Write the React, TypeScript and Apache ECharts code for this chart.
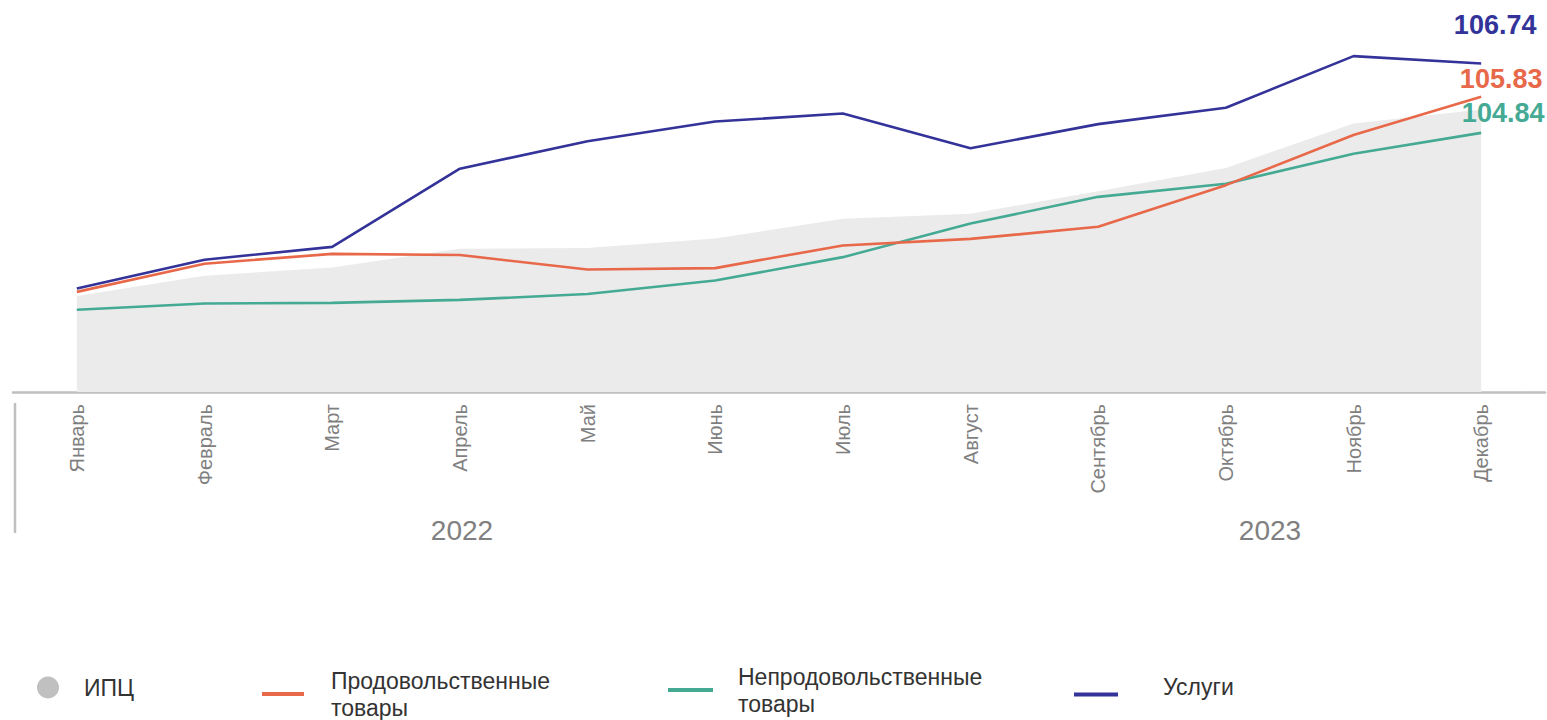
import React, { useEffect, useRef } from "react";
import * as echarts from "echarts";

const months = ["Январь", "Февраль", "Март", "Апрель", "Май", "Июнь", "Июль", "Август", "Сентябрь", "Октябрь", "Ноябрь", "Декабрь"];
const cpi = [100.38, 100.93, 101.16, 101.67, 101.69, 101.95, 102.49, 102.63, 103.24, 103.88, 105.10, 105.48];
const food = [100.49, 101.26, 101.53, 101.50, 101.10, 101.14, 101.76, 101.94, 102.27, 103.41, 104.78, 105.83];
const nonFood = [100.00, 100.17, 100.19, 100.27, 100.43, 100.80, 101.44, 102.36, 103.09, 103.45, 104.27, 104.84];
const services = [100.58, 101.37, 101.72, 103.86, 104.61, 105.15, 105.37, 104.42, 105.08, 105.53, 106.94, 106.74];
const years = ["2022", "2023"];

const NAMES = {
  cpi: "ИПЦ",
  food: "Продовольственные товары",
  nonFood: "Непродовольственные товары",
  services: "Услуги",
};

const COLORS = {
  cpiArea: "#ebebeb",
  cpiIcon: "#c0c0c0",
  food: "#e8684a",
  nonFood: "#45aa94",
  services: "#333399",
};

const FONT = "'Liberation Sans', Arial, sans-serif";

function lastLabel(values: number[], color: string, offset: number[]) {
  return values.map((v, i) =>
    i === values.length - 1
      ? {
          value: v,
          label: {
            show: true,
            position: "top",
            offset,
            formatter: (p: any) => Number(p.value).toFixed(2),
            color,
            fontSize: 27,
            fontWeight: "bold",
            fontFamily: FONT,
          },
        }
      : v
  );
}

export default function App() {
  const ref = useRef<HTMLDivElement>(null);
  useEffect(() => {
    if (!ref.current) return;
    const chart = echarts.init(ref.current, undefined, { renderer: "svg" });
    const lineSeries = (name: string, data: any[], color: string) => ({
      name,
      type: "line",
      data,
      symbol: "circle",
      symbolSize: 0,
      showSymbol: true,
      itemStyle: { color },
      lineStyle: { color, width: 2.6 },
      emphasis: { disabled: true },
    });
    const legendBase = {
      orient: "horizontal",
      padding: 0,
      itemHeight: 4,
      textStyle: { fontSize: 23, color: "#333", fontFamily: FONT, lineHeight: 27 },
      selectedMode: false,
    };
    chart.setOption({
      animation: false,
      grid: { left: 13, right: 2, top: 17.4, bottom: 328, containLabel: false },
      xAxis: {
        type: "category",
        data: months,
        boundaryGap: true,
        axisLine: { show: true, lineStyle: { color: "#bfbfbf", width: 2.5 } },
        axisTick: { show: false },
        axisLabel: {
          rotate: 90,
          margin: 12,
          color: "#7f7f7f",
          fontSize: 20,
          fontFamily: FONT,
          interval: 0,
        },
        splitLine: { show: false },
      },
      yAxis: {
        type: "value",
        min: 97.75,
        max: 108,
        show: false,
        splitLine: { show: false },
      },
      legend: [
        {
          ...legendBase,
          data: [{ name: NAMES.cpi, icon: "circle" }],
          left: 37,
          top: 674,
          itemWidth: 22,
          itemHeight: 22,
          textStyle: { ...legendBase.textStyle, padding: [0, 0, 0, 20] },
        },
        {
          ...legendBase,
          data: [{ name: NAMES.food, icon: "rect" }],
          left: 262,
          top: 667,
          itemWidth: 42,
          formatter: () => "Продовольственные\nтовары",
          textStyle: { ...legendBase.textStyle, padding: [0, 0, 0, 22] },
        },
        {
          ...legendBase,
          data: [{ name: NAMES.nonFood, icon: "rect" }],
          left: 668,
          top: 663,
          itemWidth: 45,
          formatter: () => "Непродовольственные\nтовары",
          textStyle: { ...legendBase.textStyle, padding: [0, 0, 0, 20] },
        },
        {
          ...legendBase,
          data: [{ name: NAMES.services, icon: "rect" }],
          left: 1074,
          top: 675,
          itemWidth: 44,
          formatter: (name: string) => name + "\n",
          textStyle: { ...legendBase.textStyle, lineHeight: 16, padding: [0, 0, 0, 40] },
        },
      ],
      graphic: [
        {
          type: "line",
          shape: { x1: 15, y1: 403, x2: 15, y2: 533 },
          style: { stroke: "#c0c0c0", lineWidth: 2.5 },
          silent: true,
        },
        {
          type: "text",
          x: 462,
          y: 530,
          style: { text: years[0], fill: "#808080", font: `28px ${FONT}`, textAlign: "center", textVerticalAlign: "middle" },
          silent: true,
        },
        {
          type: "text",
          x: 1270,
          y: 530,
          style: { text: years[1], fill: "#808080", font: `28px ${FONT}`, textAlign: "center", textVerticalAlign: "middle" },
          silent: true,
        },
      ],
      series: [
        {
          name: NAMES.cpi,
          type: "line",
          data: cpi,
          symbol: "none",
          itemStyle: { color: COLORS.cpiIcon },
          lineStyle: { width: 0, color: COLORS.cpiArea },
          areaStyle: { color: COLORS.cpiArea, opacity: 1 },
          emphasis: { disabled: true },
          z: 1,
        },
        lineSeries(NAMES.nonFood, lastLabel(nonFood, COLORS.nonFood, [22, -1]), COLORS.nonFood),
        lineSeries(NAMES.food, lastLabel(food, COLORS.food, [20, 1]), COLORS.food),
        lineSeries(NAMES.services, lastLabel(services, COLORS.services, [14, -20]), COLORS.services),
      ],
    });
    return () => chart.dispose();
  }, []);
  return (
    <div
      ref={ref}
      style={{ position: "absolute", left: 0, top: 0, width: 1547, height: 720, background: "#fff" }}
    />
  );
}
